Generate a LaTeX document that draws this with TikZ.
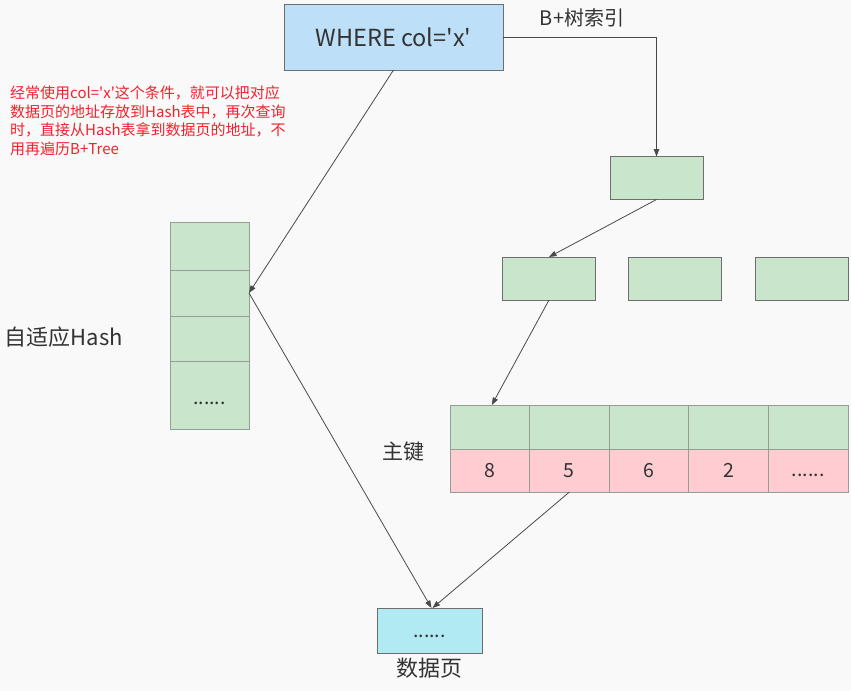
\documentclass[tikz,border=0pt]{standalone}
\usepackage{fontspec}
\newfontfamily\cjkfont{Noto Sans CJK SC}
\usetikzlibrary{arrows.meta,positioning}
\definecolor{cellgreen}{HTML}{C9E5CB}
\definecolor{cellpink}{HTML}{FFCCD2}
\definecolor{cellblue}{HTML}{BDDFF8}
\definecolor{cellcyan}{HTML}{B1EAF2}
\definecolor{boxline}{HTML}{6E6E6E}
\definecolor{hashline}{HTML}{949E94}
\definecolor{arrowgray}{HTML}{4A4A4A}
\definecolor{txtgray}{HTML}{333333}
\definecolor{notered}{HTML}{F2222C}
\definecolor{paper}{HTML}{F9F9F9}
\tikzset{
  cellbox/.style={draw=boxline,line width=0.9pt,inner sep=0pt,outer sep=0pt,
    text=txtgray,font=\cjkfont\fontsize{19.5}{22}\selectfont},
  treebox/.style={cellbox,fill=cellgreen,minimum width=93pt,minimum height=43pt},
  keybox/.style={cellbox,draw=hashline,fill=cellgreen,minimum width=79.6pt,minimum height=44pt},
  valbox/.style={cellbox,draw=hashline,fill=cellpink,minimum width=79.6pt,minimum height=43pt},
  hashbox/.style={cellbox,draw=hashline,fill=cellgreen,minimum width=79pt},
  lowdots/.style={text height=#1,text depth=0pt},
  tag/.style={text=txtgray,inner sep=0pt},
  idxflow/.style={-{Triangle[length=7.5pt,width=5.5pt]},line width=0.8pt,draw=arrowgray},
}

\begin{document}
\cjkfont
\begin{tikzpicture}[x=1pt,y=-1pt]
\fill[paper] (0,0) rectangle (851,691);
\useasboundingbox (0,0) rectangle (851,691);
% query box and B+ tree
\node[cellbox,fill=cellblue,minimum width=219pt,minimum height=66pt,
  font=\cjkfont\fontsize{23.5}{28}\selectfont] (where) at (393.5,37) {WHERE col='x'};
\node[tag,font=\cjkfont\fontsize{20}{24}\selectfont] (btree) at (582,18) {B+树索引};
\node[treebox] (root) at (656.5,178) {};
\node[treebox] (leaf1) at (549,278.5) {};
\node[treebox] (leaf2) at (675,278.5) {};
\node[treebox] (leaf3) at (801.5,278.5) {};
% primary key row
\node[keybox] (key1) at (489.8,427) {};
\node[keybox,right=0pt of key1] (key2) {};
\node[keybox,right=0pt of key2] (key3) {};
\node[keybox,right=0pt of key3] (key4) {};
\node[keybox,right=0pt of key4] (key5) {};
\node[valbox,below=0pt of key1] (val1) {8};
\node[valbox,below=0pt of key2] (val2) {5};
\node[valbox,below=0pt of key3] (val3) {6};
\node[valbox,below=0pt of key4] (val4) {2};
\node[valbox,below=0pt of key5,lowdots=12pt] (val5) {......};
\node[tag,font=\cjkfont\fontsize{21}{24}\selectfont] (pk) at (403,452) {主键};
% adaptive hash
\node[hashbox,minimum height=48pt] (hash1) at (209.5,246) {};
\node[hashbox,minimum height=46pt,below=0pt of hash1] (hash2) {};
\node[hashbox,minimum height=45pt,below=0pt of hash2] (hash3) {};
\node[hashbox,minimum height=68pt,below=0pt of hash3,lowdots=18pt] (hash4) {......};
\node[tag,font=\cjkfont\fontsize{22}{26}\selectfont] (ahi) at (64,337) {自适应Hash};
% data page
\node[cellbox,fill=cellcyan,minimum width=105pt,minimum height=45pt,lowdots=13pt] (data) at (429.5,630.5) {......};
\node[tag,font=\cjkfont\fontsize{22}{26}\selectfont,below=5pt of data] (datalbl) {数据页};
% note
\node[anchor=north west,align=left,inner sep=0pt,text=notered,
  font=\cjkfont\fontsize{15}{18.5}\selectfont] (note) at (10,86)
  {经常使用col='x'这个条件，就可以把对应\\数据页的地址存放到Hash表中，再次查询\\时，直接从Hash表拿到数据页的地址，不\\用再遍历B+Tree};
% arrows
\draw[idxflow] (where.east) -| (root.north);
\draw[idxflow] (root.south) -- (leaf1.north);
\draw[idxflow] (leaf1.south) -- ([xshift=2pt]key1.north);
\draw[idxflow] (val2.south) -- ([xshift=3pt]data.north);
\draw[idxflow] (where.south) -- (hash2.east);
\draw[idxflow] (hash2.east) -- ([xshift=2pt]data.north);
\end{tikzpicture}
\end{document}
